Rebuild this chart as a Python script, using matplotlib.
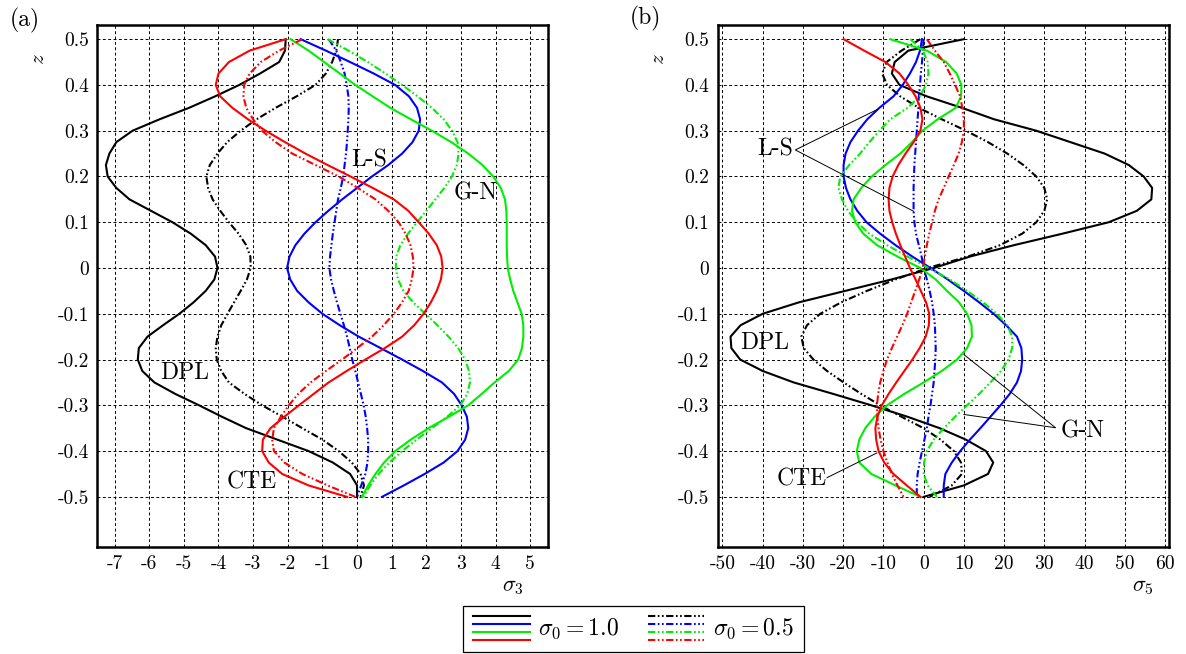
import numpy as np
import matplotlib
matplotlib.use('Agg')
import matplotlib.pyplot as plt
from matplotlib.lines import Line2D
from matplotlib.legend_handler import HandlerBase

plt.rcParams['font.family'] = 'cmr10'
plt.rcParams['mathtext.fontset'] = 'cm'
plt.rcParams['axes.unicode_minus'] = False
plt.rcParams['axes.formatter.use_mathtext'] = True

# thickness coordinate, top to bottom
z = [0.5, 0.475, 0.45, 0.425, 0.4, 0.375, 0.35, 0.325, 0.3, 0.275, 0.25,
     0.225, 0.2, 0.175, 0.15, 0.125, 0.1, 0.075, 0.05, 0.025, 0.0,
     -0.025, -0.05, -0.075, -0.1, -0.125, -0.15, -0.175, -0.2, -0.225, -0.25,
     -0.275, -0.3, -0.325, -0.35, -0.375, -0.4, -0.425, -0.45, -0.475, -0.5]

# (a) sigma_3 ; *_10 -> sigma_0 = 1.0 (solid), *_05 -> sigma_0 = 0.5 (dash-dot)
a_dpl_10 = [-2.06, -2.08, -2.25, -2.8, -3.4, -4.1, -4.85, -5.7, -6.48, -6.95, -7.15,
            -7.25, -7.2, -6.95, -6.57, -5.95, -5.33, -4.8, -4.37, -4.1, -4.03,
            -4.12, -4.37, -4.72, -5.13, -5.6, -6.05, -6.3, -6.33, -6.2, -5.85,
            -5.25, -4.56, -3.9, -3.2, -2.3, -1.4, -0.7, -0.2, 0.0, 0.0]
a_dpl_05 = [-0.55, -0.6, -0.72, -0.9, -1.2, -1.75, -2.35, -2.9, -3.36, -3.75, -4.03,
            -4.25, -4.35, -4.3, -4.17, -3.95, -3.7, -3.42, -3.2, -3.08, -3.07,
            -3.18, -3.36, -3.55, -3.74, -3.92, -4.03, -4.08, -4.05, -3.92, -3.7,
            -3.25, -2.74, -2.15, -1.58, -1.0, -0.53, -0.15, 0.1, 0.2, 0.1]
a_ls_10 = [-1.63, -0.9, -0.2, 0.48, 1.1, 1.5, 1.73, 1.82, 1.78, 1.6, 1.3,
           0.9, 0.43, 0.0, -0.43, -0.83, -1.2, -1.52, -1.78, -1.95, -2.02,
           -1.93, -1.73, -1.4, -1.0, -0.5, 0.05, 0.68, 1.3, 1.9, 2.45,
           2.8, 3.02, 3.17, 3.21, 3.12, 2.9, 2.5, 1.95, 1.35, 0.72]
a_ls_05 = [-0.82, -0.6, -0.47, -0.36, -0.3, -0.25, -0.24, -0.25, -0.27, -0.29, -0.32,
           -0.36, -0.4, -0.47, -0.55, -0.6, -0.65, -0.7, -0.74, -0.78, -0.8,
           -0.75, -0.67, -0.58, -0.48, -0.38, -0.29, -0.21, -0.14, -0.05, 0.03,
           0.11, 0.19, 0.25, 0.29, 0.32, 0.32, 0.3, 0.24, 0.12, 0.0]
a_gn_10 = [-1.92, -1.4, -0.95, -0.5, -0.05, 0.45, 0.96, 1.55, 2.16, 2.72, 3.21,
           3.62, 3.93, 4.15, 4.27, 4.31, 4.32, 4.32, 4.32, 4.33, 4.35,
           4.42, 4.51, 4.63, 4.75, 4.8, 4.8, 4.76, 4.65, 4.38, 3.97,
           3.6, 3.21, 2.65, 2.06, 1.55, 1.1, 0.78, 0.53, 0.32, 0.14]
a_gn_05 = [-0.85, -0.25, 0.31, 0.82, 1.3, 1.75, 2.16, 2.5, 2.74, 2.9, 2.93,
           2.88, 2.74, 2.52, 2.26, 2.0, 1.73, 1.47, 1.25, 1.13, 1.12,
           1.18, 1.34, 1.62, 1.97, 2.32, 2.64, 2.92, 3.12, 3.23, 3.26,
           3.18, 2.98, 2.6, 2.16, 1.72, 1.3, 0.93, 0.62, 0.38, 0.19]
a_cte_10 = [-2.06, -3.1, -3.7, -4.0, -4.08, -3.95, -3.6, -3.15, -2.64, -2.08, -1.49,
            -0.85, -0.19, 0.45, 1.06, 1.48, 1.78, 2.07, 2.3, 2.43, 2.47,
            2.42, 2.3, 2.13, 1.92, 1.65, 1.3, 0.8, 0.24, -0.3, -0.82,
            -1.25, -1.68, -2.1, -2.5, -2.72, -2.74, -2.55, -2.16, -1.4, -0.29]
a_cte_05 = [-1.58, -2.25, -2.78, -3.1, -3.26, -3.28, -3.2, -3.0, -2.75, -2.35, -1.87,
            -1.2, -0.53, 0.02, 0.53, 0.9, 1.2, 1.4, 1.54, 1.61, 1.63,
            1.58, 1.49, 1.3, 1.06, 0.77, 0.43, 0.0, -0.43, -0.9, -1.34,
            -1.7, -1.97, -2.2, -2.4, -2.45, -2.4, -2.1, -1.58, -0.85, -0.05]

# (b) sigma_5
b_dpl_10 = [10.0, -3.8, -7.2, -7.9, -6.0, 0.8, 9.5, 17.5, 28.0, 36.5, 45.0,
            51.0, 54.7, 56.8, 56.6, 53.0, 46.0, 34.5, 22.5, 11.5, 2.5,
            -8.0, -19.5, -31.0, -40.0, -45.5, -48.0, -47.8, -45.6, -40.0, -32.3,
            -22.5, -13.0, -4.0, 4.0, 10.5, 15.5, 17.3, 16.0, 10.0, 0.0]
b_dpl_05 = [-0.8, -5.5, -9.2, -10.3, -9.1, -5.8, -1.2, 4.5, 10.5, 16.0, 20.8,
            24.8, 28.0, 30.0, 30.7, 30.0, 28.0, 24.5, 19.0, 11.0, 1.0,
            -7.0, -14.1, -20.5, -25.7, -29.0, -30.4, -29.8, -27.4, -24.0, -19.9,
            -15.5, -10.8, -5.5, 0.0, 4.2, 7.5, 9.3, 9.5, 7.0, 1.5]
b_ls_10 = [-0.4, -0.9, -1.9, -3.4, -5.2, -7.5, -11.0, -14.0, -16.3, -18.2, -19.4,
           -19.9, -19.9, -19.3, -18.2, -16.5, -14.2, -10.8, -7.0, -2.8, 1.7,
           6.0, 10.0, 13.8, 17.4, 20.5, 23.2, 24.3, 24.5, 24.2, 23.2,
           21.4, 19.1, 16.6, 14.1, 11.5, 9.1, 7.0, 5.4, 5.0, 5.0]
b_ls_05 = [0.0, -0.2, -0.4, -0.7, -0.9, -1.2, -1.3, -1.5, -1.7, -1.9, -2.1,
           -2.3, -2.4, -2.5, -2.5, -2.5, -2.3, -1.9, -1.2, -0.5, 0.0,
           0.8, 1.5, 2.1, 2.5, 2.8, 2.9, 3.0, 2.9, 2.7, 2.5,
           2.1, 1.7, 1.2, 0.8, 0.2, -0.4, -1.0, -1.5, -1.7, -1.7]
b_gn_10 = [-8.3, 0.8, 5.6, 8.2, 9.4, 9.3, 8.0, 3.5, -0.3, -2.9, -5.8,
           -9.5, -12.9, -15.5, -17.4, -17.8, -17.0, -15.0, -11.6, -6.5, -0.8,
           3.0, 5.8, 8.8, 10.8, 11.9, 12.0, 10.8, 8.3, 4.5, 0.0,
           -4.8, -9.1, -12.2, -14.5, -16.0, -16.6, -16.0, -13.0, -7.0, -0.8]
b_gn_05 = [-3.3, -0.2, 1.0, 1.2, 0.6, -1.0, -4.0, -8.3, -11.0, -13.5, -15.8,
           -18.5, -20.7, -21.2, -20.3, -18.8, -16.6, -13.5, -9.1, -4.0, 1.2,
           6.5, 10.8, 14.8, 18.2, 20.8, 22.0, 22.0, 21.1, 19.2, 16.6,
           13.8, 10.8, 7.8, 5.0, 2.5, 0.8, 0.1, 0.0, 1.0, 3.3]
b_cte_10 = [-19.9, -14.8, -9.5, -6.0, -3.8, -2.0, -0.8, -0.3, -0.8, -2.5, -4.5,
            -6.3, -7.7, -8.5, -8.7, -8.5, -7.8, -6.9, -5.8, -4.6, -3.4,
            -2.0, -0.7, 0.6, 1.4, 1.3, 0.5, -1.0, -2.8, -4.8, -6.8,
            -8.7, -10.4, -11.5, -12.0, -11.8, -11.2, -9.8, -7.5, -4.2, -0.8]
b_cte_05 = [0.8, 2.8, 5.0, 6.5, 7.8, 9.1, 9.6, 10.0, 10.0, 9.5, 8.7,
            7.5, 6.2, 5.0, 3.7, 2.8, 2.1, 1.4, 0.8, 0.3, -0.2,
            -1.1, -2.1, -3.1, -4.1, -5.3, -6.6, -7.9, -9.1, -10.0, -10.8,
            -11.3, -11.6, -11.5, -11.2, -10.7, -10.0, -9.0, -7.9, -6.5, -5.0]

a_xticks = [-7, -6, -5, -4, -3, -2, -1, 0, 1, 2, 3, 4, 5]
b_xticks = [-50, -40, -30, -20, -10, 0, 10, 20, 30, 40, 50, 60]
zticks = [0.5, 0.4, 0.3, 0.2, 0.1, 0, -0.1, -0.2, -0.3, -0.4, -0.5]
zticklabels = ['0.5', '0.4', '0.3', '0.2', '0.1', '0', '-0.1', '-0.2', '-0.3', '-0.4', '-0.5']

DD = (0, (3.5, 1.2, 0.8, 1.2, 0.8, 1.2))
LW = 1.5
colors = {'dpl': 'black', 'ls': 'blue', 'gn': '#00ee00', 'cte': 'red'}


class HandlerStack(HandlerBase):
    # four coloured lines stacked in one legend entry
    def create_artists(self, legend, orig_handle, xdescent, ydescent,
                       width, height, fontsize, trans):
        out = []
        n = len(orig_handle)
        for i, h in enumerate(orig_handle):
            y = height * 1.15 * (1 - i / (n - 1)) - ydescent - 0.1 * height
            ln = Line2D([-xdescent, width - xdescent], [y, y])
            ln.update_from(h)
            ln.set_clip_on(False)
            ln.set_clip_box(None)
            ln.set_transform(trans)
            out.append(ln)
        return out


fig = plt.figure(figsize=(11.86, 6.54), dpi=100)
ax_a = fig.add_axes([0.082, 0.164, 0.3803, 0.7978])
ax_b = fig.add_axes([0.6051, 0.164, 0.3806, 0.7978])

series_a = [('dpl', a_dpl_10, a_dpl_05), ('ls', a_ls_10, a_ls_05),
            ('gn', a_gn_10, a_gn_05), ('cte', a_cte_10, a_cte_05)]
series_b = [('dpl', b_dpl_10, b_dpl_05), ('ls', b_ls_10, b_ls_05),
            ('gn', b_gn_10, b_gn_05), ('cte', b_cte_10, b_cte_05)]

solid_handles = []
dd_handles = []
for ax, series, xt, xlim, xlab in [
        (ax_a, series_a, a_xticks, (-7.5, 5.52), r'$\sigma_3$'),
        (ax_b, series_b, b_xticks, (-51.2, 61.0), r'$\sigma_5$')]:
    for key, s10, s05 in series:
        l1, = ax.plot(s10, z, color=colors[key], lw=LW)
        l2, = ax.plot(s05, z, color=colors[key], lw=LW, ls=DD)
        if ax is ax_a:
            solid_handles.append(l1)
            dd_handles.append(l2)
    ax.set_xlim(*xlim)
    ax.set_ylim(-0.609, 0.531)
    ax.set_xticks(xt)
    ax.set_xticklabels([str(v) for v in xt])
    ax.set_yticks(zticks)
    ax.set_yticklabels(zticklabels)
    ax.tick_params(length=0, labelsize=14, pad=6)
    ax.grid(True, color='black', ls=(0, (3, 2.5)), lw=0.7)
    ax.set_axisbelow(True)
    for sp in ax.spines.values():
        sp.set_linewidth(1.8)
    ax.set_ylabel('$z$', fontsize=15)
    ax.yaxis.set_label_coords(-0.11, 0.935)
    ax.set_xlabel(xlab, fontsize=16)

ax_a.xaxis.set_label_coords(0.922, -0.058)
ax_b.xaxis.set_label_coords(0.942, -0.058)

# labels in (a)
ax_a.text(0.34, 0.236, 'L-S', fontsize=17, ha='center', va='center')
ax_a.text(3.41, 0.164, 'G-N', fontsize=17, ha='center', va='center')
ax_a.text(-4.99, -0.229, 'DPL', fontsize=17, ha='center', va='center')
ax_a.text(-3.03, -0.469, 'CTE', fontsize=17, ha='center', va='center')

# labels with leader lines in (b)
ax_b.text(-36.9, 0.258, 'L-S', fontsize=17, ha='center', va='center')
ax_b.plot([-11.6, -31.9, -2.5], [0.346, 0.258, 0.124], color='black', lw=0.7)
ax_b.text(39.6, -0.357, 'G-N', fontsize=17, ha='center', va='center')
ax_b.plot([10.0, 32.8, 10.0], [-0.189, -0.349, -0.32], color='black', lw=0.7)
ax_b.text(-30.2, -0.462, 'CTE', fontsize=17, ha='center', va='center')
ax_b.plot([-24.0, -11.6], [-0.458, -0.404], color='black', lw=0.7)
ax_b.text(-39.4, -0.164, 'DPL', fontsize=17, ha='center', va='center')

fig.text(0.021, 0.969, '(a)', fontsize=17, ha='center', va='center')
fig.text(0.544, 0.972, '(b)', fontsize=17, ha='center', va='center')

leg = fig.legend([tuple(solid_handles), tuple(dd_handles)],
                 [r'$\sigma_0 = 1.0$', r'$\sigma_0 = 0.5$'],
                 handler_map={tuple: HandlerStack()},
                 loc='center', bbox_to_anchor=(0.534, 0.038), ncol=2,
                 fontsize=17, handlelength=2.4, handleheight=1.0,
                 handletextpad=0.35, columnspacing=1.2, borderpad=0.45,
                 fancybox=False, edgecolor='black', framealpha=1)
leg.get_frame().set_linewidth(0.9)

fig.savefig('out.png', dpi=100)
